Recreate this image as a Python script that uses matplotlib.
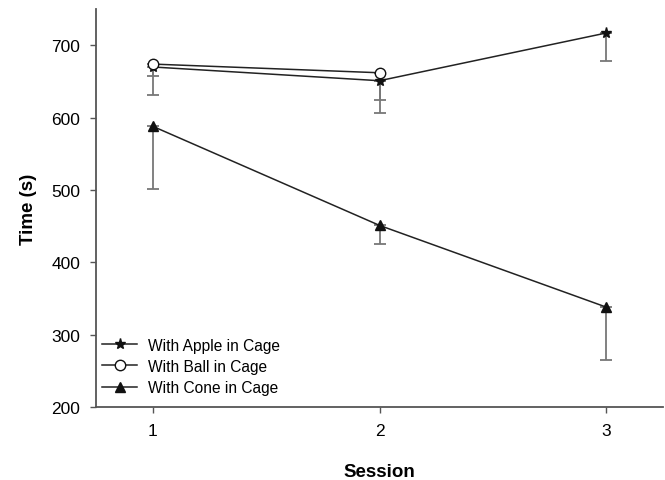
import matplotlib
matplotlib.use("Agg")
import matplotlib.pyplot as plt

plt.rcParams['font.family'] = ['Liberation Sans', 'DejaVu Sans']

sessions = [1, 2, 3]
apple = [670, 651, 717]
apple_err = [39, 44, 39]
ball_sessions = [1, 2]
ball = [674, 662]
ball_err = [16, 37]
cone = [588, 451, 338]
cone_err = [86, 26, 73]

fig = plt.figure(figsize=(6.65, 4.81), dpi=100)
ax = fig.add_axes([0.1444, 0.1518, 0.8526, 0.8272])

axc = '#555555'
ebc = '#777777'

def series(x, y, err, marker, mfc, ms, label):
    ax.errorbar(x, y, yerr=[err, [0]*len(err)], fmt='none', ecolor=ebc,
                elinewidth=1.3, capsize=4.5, capthick=1.3, zorder=2)
    ax.plot(x, y, color='#222222', lw=1.1, marker=marker, mfc=mfc, mec='#111111',
            ms=ms, mew=1.0, label=label, zorder=3)

series(sessions, apple, apple_err, '*', '#111111', 8, 'With Apple in Cage')
series(ball_sessions, ball, ball_err, 'o', 'white', 7.5, 'With Ball in Cage')
series(sessions, cone, cone_err, '^', '#111111', 7.5, 'With Cone in Cage')

ax.set_xlim(0.75, 3.25)
ax.set_ylim(200, 750)
ax.set_xticks(sessions)
ax.set_yticks([200, 300, 400, 500, 600, 700])
ax.tick_params(axis='both', direction='out', length=4.5, width=1, color=axc,
               labelsize=12.5, pad=7)
for s in ['top', 'right']:
    ax.spines[s].set_visible(False)
for s in ['left', 'bottom']:
    ax.spines[s].set_color(axc)
    ax.spines[s].set_linewidth(1.3)

ax.set_xlabel('Session', fontsize=13.5, fontweight='bold', labelpad=18)
ax.set_ylabel('Time (s)', fontsize=13.5, fontweight='bold', labelpad=10)

ax.legend(loc='lower left', bbox_to_anchor=(0.01, 0.03), frameon=False,
          fontsize=11.2, handlelength=2.3, handletextpad=0.65, labelspacing=0.4,
          borderpad=0, borderaxespad=0)

fig.savefig('out.png', dpi=100)
